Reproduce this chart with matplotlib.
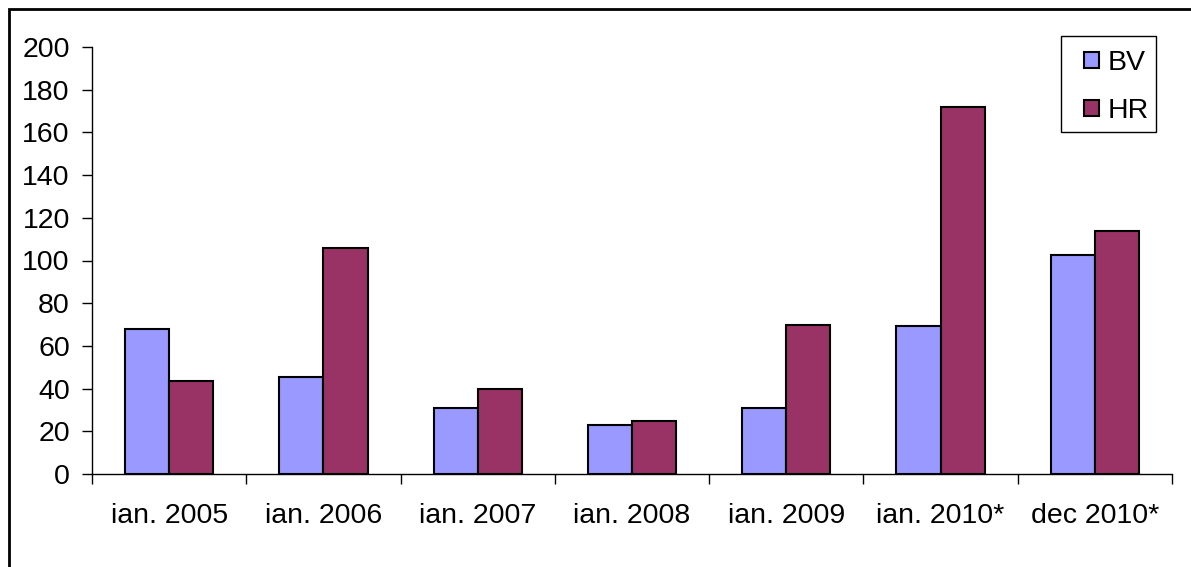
import matplotlib
matplotlib.use("Agg")
import matplotlib.pyplot as plt
from matplotlib.patches import Rectangle, Patch
import numpy as np

categories = ["ian. 2005", "ian. 2006", "ian. 2007", "ian. 2008", "ian. 2009", "ian. 2010*", "dec 2010*"]
bv = [68, 45.5, 31, 23, 31, 69.5, 102.5]
hr = [43.5, 106, 40, 25, 70, 172, 114]
series_names = ["BV", "HR"]
colors = ["#9999FF", "#993366"]

plt.rcParams['font.family'] = ['Liberation Sans', 'DejaVu Sans']

W, H = 1191, 567
fs = 20.5
fig = plt.figure(figsize=(W / 100, H / 100), dpi=100)
fig.patch.set_facecolor("white")

# outer frame
fig.patches.append(Rectangle((9 / W, -0.1), 1.2, (H - 8.5) / H + 0.1, transform=fig.transFigure,
                             fill=False, edgecolor="black", linewidth=2, zorder=0))

ax = fig.add_axes([92 / W, (H - 474) / H, (1172 - 92) / W, (474 - 47) / H])
n = len(categories)
x = np.arange(n)
bw = 1 / 3.5
ax.bar(x - bw / 2, bv, width=bw, color=colors[0], edgecolor="black", linewidth=1.5, zorder=3)
ax.bar(x + bw / 2, hr, width=bw, color=colors[1], edgecolor="black", linewidth=1.5, zorder=3)

ax.set_xlim(-0.5, n - 0.5)
ax.set_ylim(0, 200)
ax.set_yticks(range(0, 201, 20))
ax.set_xticks(x)
ax.set_xticklabels(categories)
ax.set_xticks(np.arange(-0.5, n, 1), minor=True)
ax.tick_params(axis="x", which="major", length=0, pad=21, labelsize=fs)
ax.tick_params(axis="x", which="minor", length=7, width=1, direction="out")
ax.tick_params(axis="y", length=7, width=1, direction="out", pad=9, labelsize=fs)

for s in ["top", "right"]:
    ax.spines[s].set_visible(False)
for s in ["left", "bottom"]:
    ax.spines[s].set_linewidth(1)

# legend box
fig.patches.append(Rectangle((1061 / W, 1 - 132 / H), 95 / W, 96 / H, transform=fig.transFigure,
                             facecolor="white", edgecolor="black", linewidth=1, zorder=5))
handles = [Patch(facecolor=c, edgecolor="black", linewidth=1.5) for c in colors]
leg = fig.legend(handles, series_names, loc="upper left",
                 bbox_to_anchor=(1073 / W, 1 - 39 / H), bbox_transform=fig.transFigure,
                 frameon=False, fontsize=fs,
                 handlelength=0.5, handleheight=0.5, handletextpad=0.3,
                 labelspacing=0.75, borderpad=0.4, borderaxespad=0)
leg.set_zorder(6)

fig.savefig("out.png", dpi=100)
